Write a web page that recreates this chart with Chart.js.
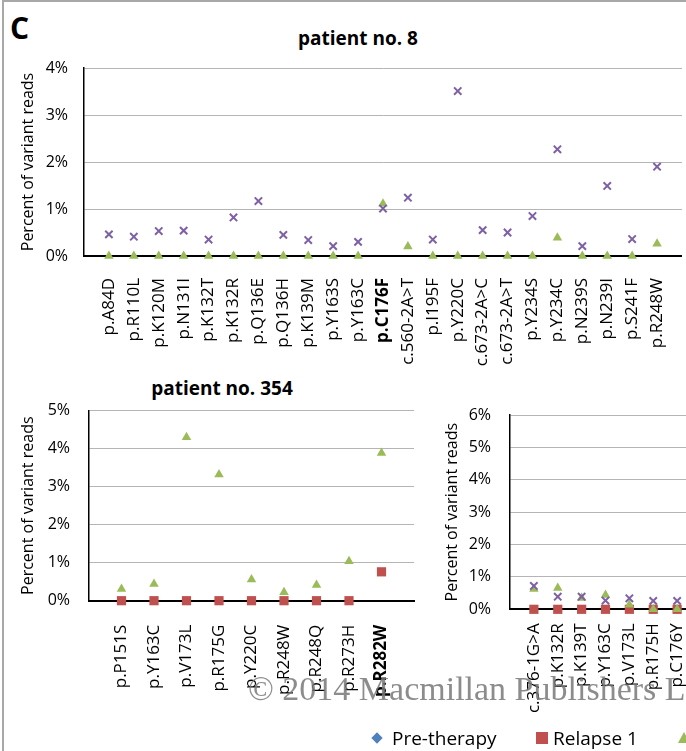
<!DOCTYPE html>
<html>
<head>
<meta charset="utf-8">
<script src="https://cdn.jsdelivr.net/npm/chart.js@4.4.1/dist/chart.umd.min.js"></script>
<style>
  html, body { margin: 0; padding: 0; background: #fff; overflow: hidden; }
  #fig { position: relative; width: 686px; height: 751px; overflow: hidden; font-family: 'Open Sans', sans-serif; color: #000; }
  .frame { position: absolute; left: 2px; top: 0; width: 720px; height: 800px; border-left: 2px solid #a8a8a8; border-top: 2px solid #a8a8a8; }
  canvas { position: absolute; }
  .txt { position: absolute; white-space: nowrap; line-height: 1; }
  .panel { left: 10px; top: 13px; font-size: 30px; font-weight: bold; }
  .title { font-size: 19px; font-weight: bold; width: 240px; text-align: center; }
  .wm { left: 248px; top: 672px; font-family: 'Liberation Serif', serif; font-size: 34px; color: rgba(120,120,120,0.85); }
  .leg { font-size: 19px; }
  .mk { position: absolute; }
</style>
</head>
<body>
<div id="fig">
  <div class="frame"></div>
  <div class="txt panel">C</div>
  <div class="txt title" style="left:238px;top:29px">patient no. 8</div>
  <div class="txt title" style="left:102px;top:379px">patient no. 354</div>

  <canvas id="c8" width="700" height="380" style="left:0;top:0"></canvas>
  <canvas id="c354" width="430" height="330" style="left:0;top:380px"></canvas>
  <canvas id="c3" width="300" height="370" style="left:420px;top:380px"></canvas>

  <div class="txt wm">© 2014 Macmillan Publishers L</div>

  <div class="mk" style="left:373px;top:734px;width:8px;height:8px;background:#4f81bd;transform:rotate(45deg)"></div>
  <div class="txt leg" style="left:392px;top:729px">Pre-therapy</div>
  <div class="mk" style="left:536px;top:732px;width:12px;height:12px;background:#c0504d"></div>
  <div class="txt leg" style="left:553px;top:729px">Relapse 1</div>
  <div class="mk" style="left:678px;top:732px;width:0;height:0;border-left:6px solid transparent;border-right:6px solid transparent;border-bottom:11px solid #9bbb59"></div>
</div>

<script>
// patient no. 8
const labels8 = ['p.A84D', 'p.R110L', 'p.K120M', 'p.N131I', 'p.K132T', 'p.K132R', 'p.Q136E', 'p.Q136H',
  'p.K139M', 'p.Y163S', 'p.Y163C', 'p.C176F', 'c.560-2A>T', 'p.I195F', 'p.Y220C', 'c.673-2A>C',
  'c.673-2A>T', 'p.Y234S', 'p.Y234C', 'p.N239S', 'p.N239I', 'p.S241F', 'p.R248W'];
const relapse2_8 = [0, 0, 0, 0, 0, 0, 0, 0, 0, 0, 0, 1.11, 0.2, 0, 0, 0, 0, 0, 0.39, 0, 0, 0, 0.26];
const relapse3_8 = [0.46, 0.41, 0.53, 0.54, 0.35, 0.82, 1.17, 0.45, 0.34, 0.21, 0.3, 1.01, 1.24, 0.35,
  3.51, 0.55, 0.5, 0.85, 2.27, 0.21, 1.49, 0.36, 1.9];

// patient no. 354
const labels354 = ['p.P151S', 'p.Y163C', 'p.V173L', 'p.R175G', 'p.Y220C', 'p.R248W', 'p.R248Q', 'p.R273H', 'p.R282W'];
const relapse1_354 = [0, 0, 0, 0, 0, 0, 0, 0, 0.76];
const relapse2_354 = [0.31, 0.44, 4.3, 3.32, 0.56, 0.22, 0.41, 1.04, 3.89];

// third patient (cut off on the right)
const labels3 = ['c.376-1G>A', 'p.K132R', 'p.K139T', 'p.Y163C', 'p.V173L', 'p.R175H', 'p.C176Y'];
const relapse1_3 = [0, 0, 0, 0, 0, 0, 0];
const relapse2_3 = [0.63, 0.66, 0.35, 0.44, 0.14, 0, 0];
const relapse3_3 = [0.72, 0.39, 0.39, 0.27, 0.34, 0.26, 0.26];

const FONT = "'Open Sans', sans-serif";
const RED = '#c0504d';
const GREEN = '#9bbb59';
const PURPLE = '#7e60a5';

const toPoints = (values) => values.map((v, i) => ({x: i + 1, y: v}));

const squares = (values) => ({
  label: 'Relapse 1', data: toPoints(values), order: 3, clip: false,
  pointStyle: 'rect', pointRadius: 6.5, pointBackgroundColor: RED, pointBorderWidth: 0,
});
const triangles = (values) => ({
  label: 'Relapse 2', data: toPoints(values), order: 2, clip: false,
  pointStyle: 'triangle', pointRadius: 5.5, pointBackgroundColor: GREEN, pointBorderWidth: 0,
});
const crosses = (values) => ({
  label: 'Relapse 3', data: toPoints(values), order: 1, clip: false,
  pointStyle: 'crossRot', pointRadius: 5.2, pointBorderColor: PURPLE, pointBorderWidth: 2,
});

const drawPanel = (id, p) => new Chart(document.getElementById(id), {
  type: 'scatter',
  data: {datasets: p.datasets},
  options: {
    responsive: false,
    animation: false,
    devicePixelRatio: 1,
    layout: {padding: {top: p.top, right: p.right, left: 0, bottom: 0}},
    scales: {
      x: {
        type: 'linear',
        min: 0,
        max: p.xMax,
        afterBuildTicks: (s) => { s.ticks = p.labels.map((_, i) => ({value: i + 1})); },
        afterFit: (s) => { s.height = p.xHeight; },
        grid: {display: false, drawTicks: false},
        border: {color: '#000', width: 2},
        ticks: {
          autoSkip: false,
          minRotation: 90,
          maxRotation: 90,
          padding: p.xPad,
          color: '#000',
          callback: (v) => p.labels[v - 1],
          font: (ctx) => ({family: FONT, size: 17,
            weight: p.bold.includes(p.labels[ctx.index]) ? 'bold' : 'normal'}),
        },
      },
      y: {
        min: 0,
        max: p.yMax,
        afterFit: (s) => { s.width = p.yWidth; },
        grid: {color: '#b5b5b5', lineWidth: 1, drawTicks: false},
        border: {color: '#000', width: 1.5},
        ticks: {stepSize: 1, padding: p.yPad, color: '#000', font: {family: FONT, size: 16},
          callback: (v) => v + '%'},
        title: {display: true, text: 'Percent of variant reads', color: '#000',
          font: {family: FONT, size: 16}, padding: {top: p.titlePad, bottom: 0}},
      },
    },
    plugins: {
      legend: {display: false},
      tooltip: {enabled: false},
    },
  },
});

drawPanel('c8', {
  labels: labels8, bold: ['p.C176F'], xMax: 24, yMax: 4,
  top: 68, right: 13, yWidth: 84, xHeight: 124, yPad: 16, xPad: 22, titlePad: 18.4,
  datasets: [triangles(relapse2_8), crosses(relapse3_8)],
});

drawPanel('c354', {
  labels: labels354, bold: ['p.R282W'], xMax: 10, yMax: 5,
  top: 30.7, right: 16, yWidth: 89, xHeight: 109.3, yPad: 19, xPad: 24, titlePad: 18.4,
  datasets: [squares(relapse1_354), triangles(relapse2_354)],
});

drawPanel('c3', {
  labels: labels3, bold: [], xMax: 8, yMax: 6,
  top: 35, right: 19, yWidth: 90, xHeight: 140.7, yPad: 19, xPad: 14, titlePad: 22.4,
  datasets: [squares(relapse1_3), triangles(relapse2_3), crosses(relapse3_3)],
});
</script>
</body>
</html>
